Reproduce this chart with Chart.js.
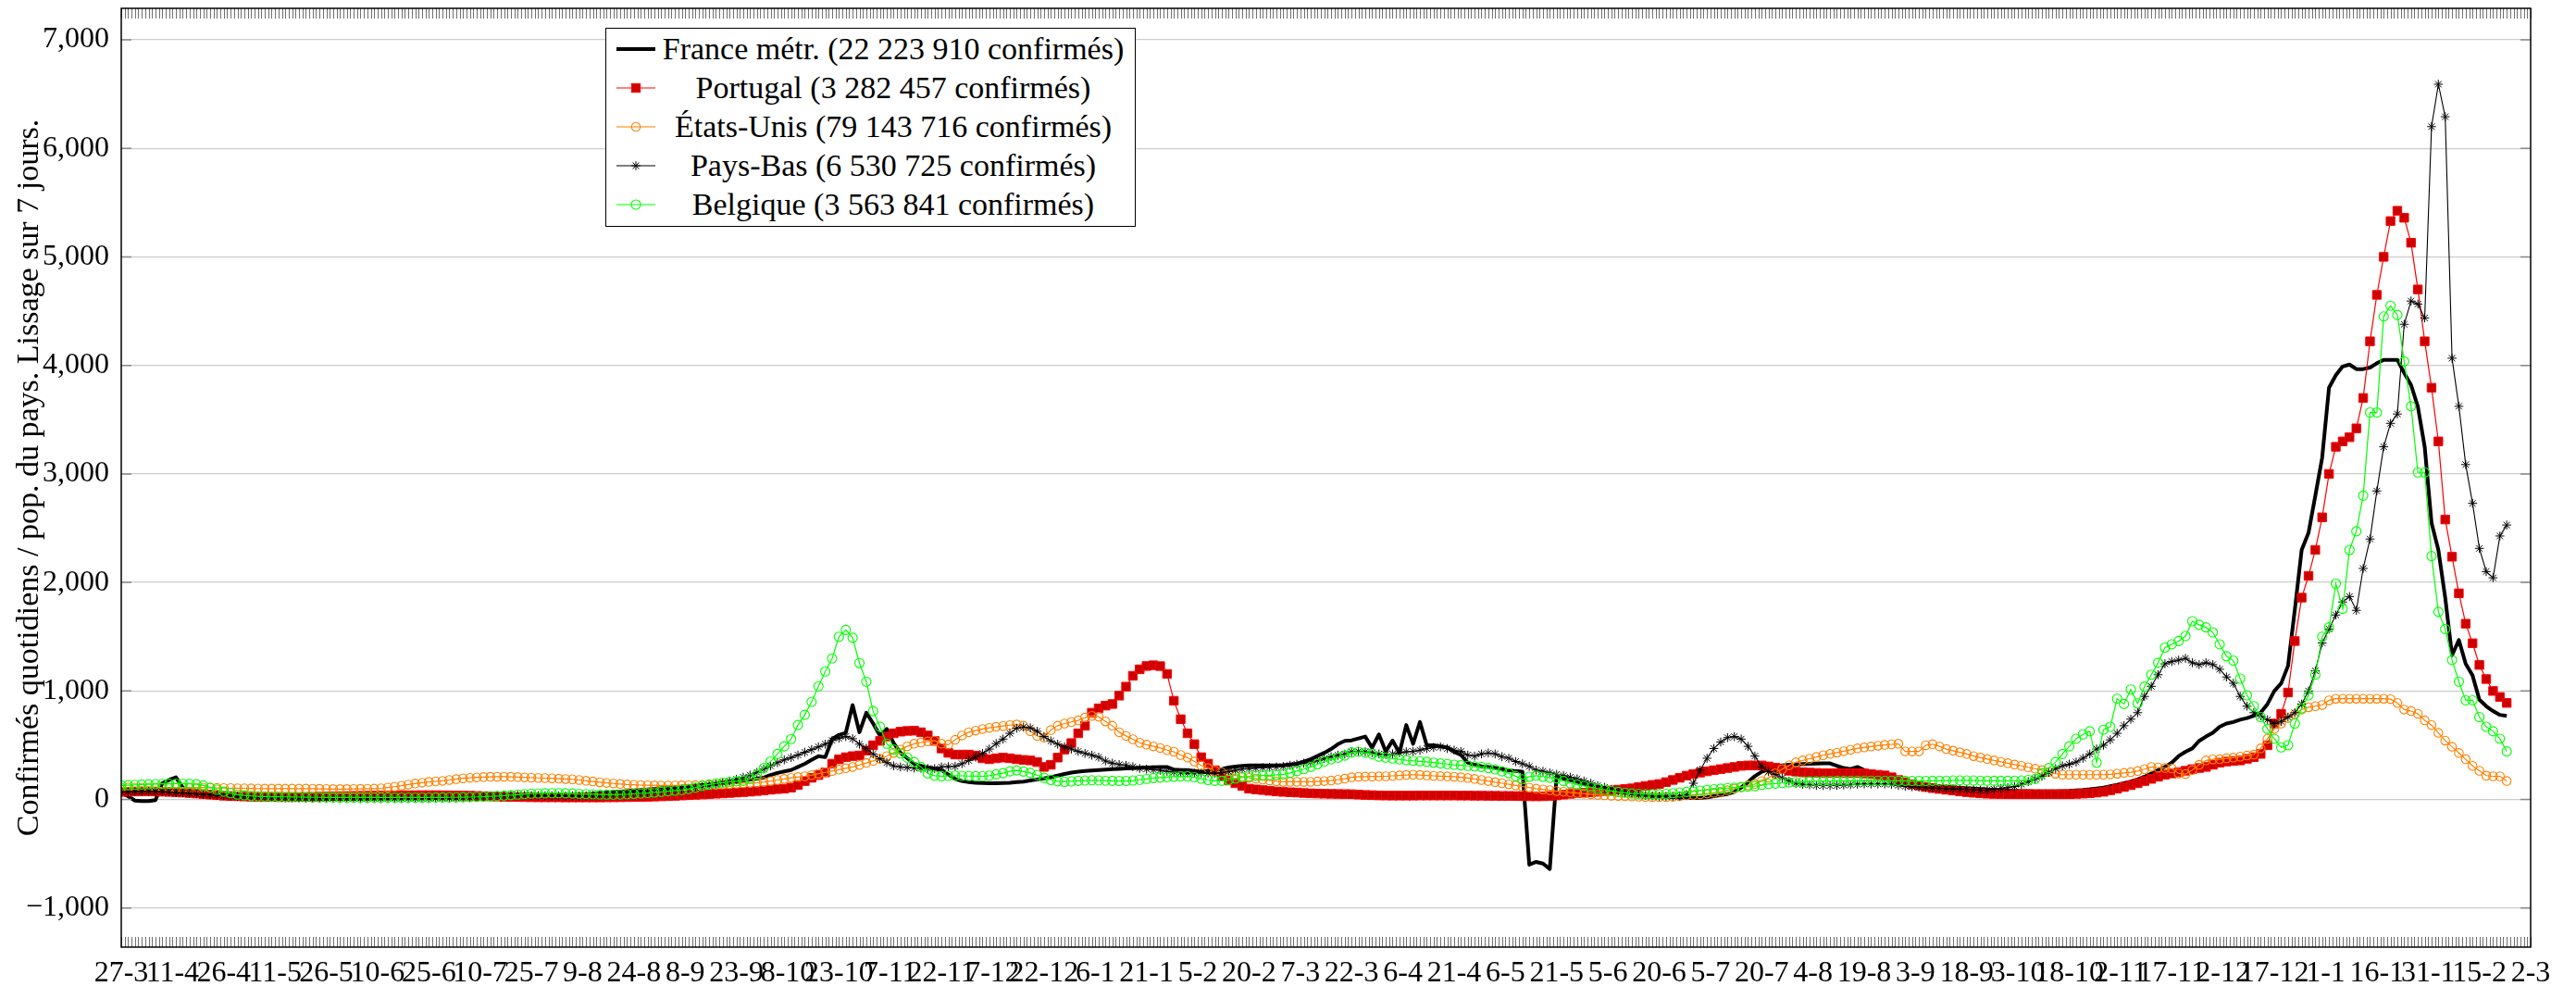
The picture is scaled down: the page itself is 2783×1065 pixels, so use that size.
<!DOCTYPE html>
<html lang="fr">
<head>
<meta charset="utf-8">
<title>Confirmés quotidiens par pays</title>
<script src="https://cdn.jsdelivr.net/npm/chart.js@4.4.1/dist/chart.umd.min.js"></script>
<style>
  html, body { margin: 0; padding: 0; background: #fff; }
  #wrap { position: relative; width: 2783px; height: 1065px; overflow: hidden; }
  #chart { display: block; }
  #legend {
    position: absolute; left: 654px; top: 30px; width: 571px;
    border: 1px solid #000; background: #fff; color: #000;
    font: 34px 'Liberation Serif', serif; padding: 1px 0 2px 0;
  }
  .row { display: flex; align-items: center; height: 42px; padding: 0 8px 0 11px; }
  .row svg { flex: none; }
  .row span { flex: 1; text-align: center; white-space: nowrap; margin-left: 4px; line-height: 42px; }
</style>
</head>
<body>
<div id="wrap">
  <canvas id="chart" width="2783" height="1065"></canvas>
  <div id="legend"></div>
</div>
<script>
// one value every SAMPLE_STEP days, day 0 = 27-3-2020
const SAMPLE_STEP = 2;
const TICK_STEP = 15;
const X_MAX = 705;
const Y_MIN = -1360;
const Y_MAX = 7290;

const tickLabels = ['27-3', '11-4', '26-4', '11-5', '26-5', '10-6', '25-6', '10-7', '25-7', '9-8',
  '24-8', '8-9', '23-9', '8-10', '23-10', '7-11', '22-11', '7-12', '22-12', '6-1',
  '21-1', '5-2', '20-2', '7-3', '22-3', '6-4', '21-4', '6-5', '21-5', '5-6',
  '20-6', '5-7', '20-7', '4-8', '19-8', '3-9', '18-9', '3-10', '18-10', '2-11',
  '17-11', '2-12', '17-12', '1-1', '16-1', '31-1', '15-2', '2-3'];

const yTickValues = [-1000, 0, 1000, 2000, 3000, 4000, 5000, 6000, 7000];

const seriesLabels = [
  'France métr. (22 223 910 confirmés)',
  'Portugal (3 282 457 confirmés)',
  'États-Unis (79 143 716 confirmés)',
  'Pays-Bas (6 530 725 confirmés)',
  'Belgique (3 563 841 confirmés)'
];

const yTitle = 'Confirmés quotidiens / pop. du pays. Lissage sur 7 jours.';

const franceValues = [
  60, 30, -10, -15, -15, -5, 150, 180, 205, 110,
  60, 55, 50, 45, 40, 35, 30, 25, 22, 20,
  18, 16, 15, 15, 14, 14, 13, 13, 12, 12,
  12, 12, 12, 12, 12, 13, 13, 13, 14, 14,
  14, 15, 15, 15, 16, 16, 17, 17, 18, 18,
  19, 19, 20, 20, 21, 22, 23, 24, 25, 26,
  27, 28, 30, 32, 34, 36, 40, 44, 48, 53,
  58, 63, 68, 73, 78, 83, 88, 93, 98, 103,
  108, 112, 117, 122, 127, 132, 138, 144, 150, 157,
  165, 175, 183, 192, 202, 225, 245, 258, 271, 300,
  329, 365, 400, 390, 557, 595, 614, 870, 620, 800,
  700, 590, 650, 520, 430, 380, 329, 310, 295, 285,
  270, 230, 190, 170, 160, 155, 152, 150, 150, 152,
  155, 160, 165, 175, 185, 195, 205, 220, 235, 248,
  257, 263, 268, 272, 276, 280, 283, 286, 289, 292,
  295, 297, 299, 300, 275, 272, 271, 264, 257, 262,
  268, 280, 295, 303, 310, 314, 314, 314, 314, 314,
  316, 322, 329, 350, 371, 400, 430, 465, 510, 540,
  545, 563, 580, 477, 600, 443, 543, 430, 686, 514,
  714, 500, 500, 490, 480, 440, 410, 340, 320, 306,
  300, 290, 280, 270, 262, 257, -600, -575, -590, -640,
  214, 195, 180, 165, 145, 125, 114, 100, 85, 75,
  62, 55, 48, 40, 33, 29, 25, 22, 18, 15,
  14, 15, 20, 30, 40, 50, 70, 110, 160, 215,
  255, 275, 300, 314, 320, 323, 326, 329, 332, 334,
  333, 310, 290, 280, 300, 270, 257, 240, 220, 205,
  190, 178, 160, 143, 135, 128, 122, 116, 112, 108,
  104, 100, 96, 92, 88, 85, 82, 80, 78, 77,
  76, 75, 75, 76, 78, 80, 84, 88, 94, 102,
  110, 122, 135, 150, 165, 185, 210, 240, 270, 300,
  340, 400, 440, 471, 540, 580, 614, 670, 700, 714,
  735, 750, 771, 800, 880, 1000, 1070, 1230, 1750, 2300,
  2457, 2800, 3150, 3794, 3910, 3990, 4008, 3966, 3966, 3980,
  4020, 4051, 4051, 4051, 3930, 3820, 3620, 3250, 2550, 2300,
  1860, 1329, 1470, 1250, 1143, 920, 860, 815, 780, 770
];

const portugalValues = [
  70, 72, 74, 75, 75, 74, 72, 70, 67, 64,
  60, 55, 50, 45, 40, 35, 32, 30, 28, 26,
  25, 24, 23, 22, 22, 22, 23, 24, 25, 27,
  28, 30, 31, 32, 33, 34, 35, 36, 37, 38,
  38, 39, 39, 40, 40, 40, 40, 39, 38, 37,
  36, 35, 33, 31, 29, 27, 25, 24, 23, 22,
  21, 20, 20, 20, 20, 19, 19, 19, 19, 19,
  19, 20, 20, 21, 22, 23, 24, 25, 27, 29,
  31, 34, 37, 40, 43, 46, 50, 53, 56, 60,
  64, 68, 72, 78, 84, 90, 96, 100, 110, 134,
  170, 200, 225, 250, 330, 370, 390, 400, 406, 450,
  500, 540, 580, 610, 625, 632, 634, 620, 590, 540,
  470, 430, 414, 414, 414, 405, 380, 371, 380, 386,
  380, 371, 365, 360, 345, 300, 320, 386, 460, 520,
  610, 680, 800, 840, 865, 880, 957, 1040, 1140, 1200,
  1230, 1237, 1229, 1157, 910, 740, 610, 510, 390, 330,
  270, 214, 175, 150, 125, 100, 93, 87, 80, 74,
  70, 67, 64, 60, 57, 55, 53, 52, 51, 50,
  49, 45, 42, 40, 38, 37, 36, 36, 36, 36,
  37, 37, 37, 37, 37, 37, 36, 36, 35, 35,
  34, 34, 33, 33, 32, 31, 30, 29, 30, 33,
  38, 45, 52, 58, 63, 67, 71, 77, 84, 91,
  97, 103, 115, 125, 135, 143, 160, 180, 200, 220,
  235, 248, 260, 270, 280, 290, 300, 310, 314, 314,
  314, 305, 293, 280, 265, 257, 252, 248, 245, 243,
  243, 243, 243, 243, 243, 240, 235, 228, 222, 205,
  180, 160, 140, 129, 115, 105, 97, 90, 83, 75,
  68, 62, 57, 53, 51, 50, 49, 49, 49, 49,
  49, 49, 49, 49, 49, 49, 51, 54, 58, 64,
  71, 85, 100, 115, 132, 150, 170, 190, 210, 229,
  240, 252, 265, 280, 290, 300, 320, 340, 350, 355,
  360, 375, 390, 420, 500, 700, 790, 986, 1460, 1860,
  2060, 2300, 2600, 3000, 3250, 3300, 3338, 3420, 3700, 4222,
  4650, 5000, 5330, 5425, 5360, 5130, 4700, 4222, 3794, 3300,
  2580, 2237, 1900, 1620, 1440, 1240, 1110, 1000, 945, 890
];

const usValues = [
  110, 110, 110, 110, 110, 110, 110, 110, 110, 110,
  110, 110, 110, 108, 107, 106, 105, 104, 103, 102,
  101, 100, 100, 100, 100, 100, 100, 100, 99, 98,
  97, 96, 96, 96, 97, 98, 99, 100, 103, 110,
  118, 127, 138, 147, 155, 162, 167, 172, 180, 188,
  195, 200, 204, 207, 209, 210, 210, 209, 207, 204,
  201, 199, 197, 195, 192, 189, 186, 180, 173, 166,
  159, 153, 148, 143, 139, 136, 133, 131, 130, 129,
  129, 129, 130, 131, 132, 133, 134, 136, 139, 142,
  146, 150, 153, 156, 162, 170, 180, 190, 200, 207,
  214, 225, 238, 250, 262, 275, 288, 300, 318, 337,
  356, 375, 400, 430, 460, 490, 514, 525, 535, 543,
  514, 505, 550, 590, 620, 635, 650, 660, 670, 677,
  685, 691, 680, 630, 586, 571, 640, 680, 700, 715,
  729, 755, 771, 763, 720, 680, 620, 586, 555, 523,
  505, 490, 475, 455, 440, 410, 386, 350, 314, 290,
  265, 250, 235, 222, 210, 200, 192, 184, 176, 168,
  163, 163, 163, 163, 163, 166, 170, 175, 182, 192,
  205, 210, 211, 212, 213, 214, 218, 222, 226, 229,
  226, 222, 218, 215, 213, 210, 205, 198, 190, 180,
  170, 160, 150, 140, 130, 120, 110, 100, 93, 86,
  78, 72, 66, 60, 54, 48, 43, 39, 35, 32,
  30, 28, 26, 24, 22, 21, 22, 25, 30, 38,
  43, 48, 55, 62, 70, 85, 100, 115, 130, 143,
  170, 200, 240, 280, 315, 343, 360, 376, 392, 408,
  420, 432, 445, 458, 471, 480, 488, 496, 503, 508,
  514, 443, 443, 443, 500, 510, 490, 465, 450, 435,
  420, 400, 386, 373, 360, 347, 335, 322, 310, 297,
  284, 271, 255, 238, 229, 229, 229, 229, 229, 229,
  229, 232, 238, 245, 252, 262, 280, 300, 295, 290,
  286, 240, 235, 271, 320, 360, 370, 371, 380, 386,
  395, 405, 414, 471, 560, 650, 700, 750, 786, 829,
  850, 860, 871, 914, 929, 929, 929, 929, 929, 929,
  929, 929, 925, 890, 829, 815, 790, 729, 686, 614,
  543, 486, 429, 371, 310, 265, 220, 214, 214, 171
];

const netherlandsValues = [
  70, 72, 74, 75, 75, 74, 72, 70, 66, 62,
  57, 52, 47, 43, 39, 35, 32, 29, 27, 25,
  23, 21, 19, 18, 16, 15, 14, 13, 12, 11,
  10, 10, 9, 9, 9, 8, 8, 8, 8, 8,
  8, 8, 9, 9, 9, 10, 10, 11, 12, 14,
  16, 18, 21, 24, 27, 30, 33, 36, 38, 38,
  37, 36, 35, 34, 33, 33, 33, 34, 35, 37,
  39, 42, 45, 48, 52, 56, 60, 65, 70, 76,
  82, 88, 95, 102, 110, 118, 128, 140, 155, 170,
  186, 205, 225, 250, 280, 310, 340, 365, 386, 410,
  435, 460, 485, 510, 545, 565, 580, 560, 510, 471,
  420, 375, 340, 310, 300, 295, 290, 288, 286, 285,
  300, 303, 306, 330, 360, 390, 425, 465, 515, 557,
  610, 657, 668, 660, 629, 580, 540, 510, 486, 465,
  443, 425, 408, 390, 355, 335, 322, 314, 302, 286,
  280, 274, 270, 260, 252, 246, 243, 243, 243, 243,
  243, 246, 258, 270, 280, 286, 290, 294, 297, 300,
  305, 315, 325, 335, 343, 360, 378, 395, 408, 418,
  440, 443, 440, 432, 420, 414, 420, 430, 440, 443,
  455, 470, 480, 486, 470, 455, 443, 410, 400, 420,
  429, 420, 395, 380, 350, 329, 305, 271, 260, 245,
  232, 220, 205, 190, 170, 150, 129, 112, 95, 80,
  65, 55, 45, 38, 32, 29, 29, 30, 33, 43,
  150, 271, 380, 470, 530, 570, 580, 557, 490, 400,
  300, 257, 230, 200, 170, 150, 140, 135, 130, 129,
  128, 130, 133, 136, 140, 143, 143, 143, 143, 140,
  130, 122, 118, 114, 110, 106, 103, 101, 100, 97,
  94, 90, 86, 88, 95, 103, 110, 120, 140, 165,
  190, 214, 250, 285, 310, 325, 345, 380, 420, 465,
  500, 550, 610, 680, 740, 800, 950, 1043, 1150, 1250,
  1271, 1285, 1300, 1260, 1243, 1260, 1243, 1200, 1129, 1071,
  950, 860, 800, 770, 735, 700, 720, 760, 800, 880,
  1000, 1186, 1443, 1571, 1700, 1820, 1870, 1743, 2129, 2400,
  2843, 3250, 3466, 3552, 4379, 4593, 4565, 4437, 6200, 6591,
  6291, 4066, 3623, 3086, 2729, 2314, 2100, 2043, 2428, 2529
];

const belgiumValues = [
  130, 132, 135, 138, 140, 142, 144, 145, 146, 146,
  145, 140, 130, 110, 90, 72, 58, 45, 38, 33,
  30, 28, 26, 25, 24, 23, 22, 21, 20, 20,
  19, 19, 18, 18, 18, 18, 18, 18, 18, 18,
  18, 18, 18, 18, 18, 18, 19, 19, 20, 20,
  21, 22, 24, 26, 29, 32, 36, 40, 45, 50,
  54, 56, 57, 58, 58, 57, 55, 52, 50, 48,
  46, 45, 45, 46, 48, 52, 56, 60, 65, 70,
  76, 82, 88, 98, 110, 125, 138, 148, 156, 163,
  168, 172, 190, 230, 290, 350, 420, 490, 557, 686,
  780, 900, 1043, 1180, 1300, 1500, 1563, 1490, 1257, 1086,
  814, 671, 514, 460, 425, 386, 345, 300, 240, 220,
  215, 218, 220, 218, 216, 215, 214, 220, 232, 243,
  260, 268, 258, 245, 225, 200, 180, 168, 163, 167,
  172, 175, 177, 176, 174, 172, 171, 171, 175, 182,
  190, 198, 202, 206, 210, 213, 214, 205, 192, 180,
  172, 172, 180, 195, 205, 214, 218, 221, 224, 227,
  232, 245, 262, 280, 300, 325, 350, 370, 385, 405,
  435, 440, 432, 420, 395, 386, 378, 370, 362, 357,
  352, 347, 340, 332, 327, 320, 315, 310, 305, 300,
  290, 278, 260, 243, 215, 186, 210, 220, 210, 200,
  195, 170, 150, 138, 125, 112, 100, 90, 80, 70,
  62, 55, 52, 50, 49, 49, 52, 58, 64, 70,
  75, 82, 88, 95, 100, 105, 110, 115, 120, 123,
  135, 143, 147, 152, 157, 160, 163, 166, 169, 171,
  171, 172, 172, 173, 173, 174, 174, 174, 173, 173,
  172, 172, 171, 171, 171, 172, 173, 174, 175, 176,
  176, 175, 174, 173, 172, 172, 172, 173, 175, 180,
  190, 243, 290, 345, 420, 490, 560, 600, 629, 340,
  643, 670, 930, 880, 1014, 886, 1040, 1150, 1260, 1400,
  1430, 1460, 1506, 1643, 1610, 1586, 1540, 1430, 1320, 1280,
  1114, 960, 860, 760, 650, 560, 480, 500, 700, 840,
  960, 1150, 1500, 1586, 1990, 1757, 2300, 2471, 2800, 3566,
  3566, 4451, 4550, 4465, 4037, 3623, 3014, 3014, 2243, 1729,
  1571, 1286, 1086, 914, 914, 760, 670, 629, 560, 443
];

function toPoints(values) {
  return values.map((v, i) => ({ x: i * SAMPLE_STEP, y: v }));
}

function formatThousands(v) {
  const s = Math.abs(v).toLocaleString('en-US');
  return v < 0 ? '\u2212' + s : s;
}

Chart.defaults.font.family = "'Liberation Serif', 'DejaVu Serif', serif";
Chart.defaults.color = '#000';

const datasets = [
  {
    label: seriesLabels[0], data: toPoints(franceValues), order: 5,
    borderColor: '#000', borderWidth: 4, pointRadius: 0, borderJoinStyle: 'round'
  },
  {
    label: seriesLabels[1], data: toPoints(portugalValues), order: 4,
    borderColor: '#ff0000', borderWidth: 1.2,
    pointStyle: 'rect', pointRadius: 6.6, pointBorderWidth: 1,
    pointBackgroundColor: '#cc0000', pointBorderColor: '#ff0000'
  },
  {
    label: seriesLabels[2], data: toPoints(usValues), order: 3,
    borderColor: '#ff8000', borderWidth: 1.2,
    pointStyle: 'circle', pointRadius: 4.7, pointBorderWidth: 1.1,
    pointBackgroundColor: 'rgba(0,0,0,0)', pointBorderColor: '#ff8000'
  },
  {
    label: seriesLabels[3], data: toPoints(netherlandsValues), order: 2,
    borderColor: '#000', borderWidth: 1.1,
    pointStyle: 'star', pointRadius: 4.8, pointBorderWidth: 1,
    pointBackgroundColor: '#000', pointBorderColor: '#000'
  },
  {
    label: seriesLabels[4], data: toPoints(belgiumValues), order: 1,
    borderColor: '#00ff00', borderWidth: 1.2,
    pointStyle: 'circle', pointRadius: 5, pointBorderWidth: 1.1,
    pointBackgroundColor: 'rgba(0,0,0,0)', pointBorderColor: '#00ff00'
  }
];

// frame, daily ticks along top/bottom, short y ticks on both sides
const frameTicks = {
  id: 'frameTicks',
  afterDatasetsDraw(chart) {
    const { ctx, chartArea: a, scales: { x, y } } = chart;
    ctx.save();
    ctx.strokeStyle = '#707070';
    ctx.lineWidth = 1;
    ctx.beginPath();
    for (let d = 0; d <= X_MAX; d++) {
      const px = Math.round(x.getPixelForValue(d)) + 0.5;
      ctx.moveTo(px, a.bottom);
      ctx.lineTo(px, a.bottom - 11);
      ctx.moveTo(px, a.top);
      ctx.lineTo(px, a.top + 11);
    }
    ctx.stroke();

    ctx.strokeStyle = '#8a8a8a';
    ctx.lineWidth = 1.5;
    ctx.beginPath();
    yTickValues.forEach(v => {
      const py = y.getPixelForValue(v);
      ctx.moveTo(a.left, py);
      ctx.lineTo(a.left + 11, py);
      ctx.moveTo(a.right, py);
      ctx.lineTo(a.right - 11, py);
    });
    ctx.stroke();

    ctx.strokeStyle = '#000';
    ctx.lineWidth = 1.5;
    ctx.strokeRect(a.left, a.top, a.right - a.left, a.bottom - a.top);
    ctx.restore();
  }
};

new Chart(document.getElementById('chart'), {
  type: 'line',
  data: { datasets },
  options: {
    responsive: false,
    devicePixelRatio: 1,
    animation: false,
    events: [],
    layout: { padding: { left: 0, right: 49, top: 9, bottom: 0 } },
    elements: { line: { tension: 0 } },
    plugins: { legend: { display: false }, tooltip: { enabled: false } },
    scales: {
      x: {
        type: 'linear',
        min: 0,
        max: X_MAX,
        grid: { display: false, drawTicks: false },
        border: { display: false },
        afterBuildTicks: s => { s.ticks = tickLabels.map((_, i) => ({ value: i * TICK_STEP })); },
        ticks: {
          autoSkip: false, maxRotation: 0, minRotation: 0, padding: 9,
          font: { size: 32 },
          callback: (v, i) => tickLabels[i]
        },
        afterFit: s => { s.height = 42; s.paddingLeft = 0; s.paddingRight = 0; }
      },
      y: {
        min: Y_MIN,
        max: Y_MAX,
        grid: { color: '#cccccc', lineWidth: 1.3, drawTicks: false },
        border: { display: false },
        afterBuildTicks: s => { s.ticks = yTickValues.map(v => ({ value: v })); },
        ticks: { padding: 13, font: { size: 32 }, callback: v => formatThousands(v) },
        title: {
          display: true, text: yTitle, font: { size: 34 },
          padding: { top: 12, bottom: 0 }
        },
        afterFit: s => { s.width = 131; s.paddingTop = 0; s.paddingBottom = 0; }
      }
    }
  },
  plugins: [frameTicks]
});

// legend box, text centred like the original
function legendSample(ds) {
  const w = 42, h = 30, cx = 21, cy = 15;
  let s = `<svg width="${w}" height="${h}" viewBox="0 0 ${w} ${h}">`;
  s += `<line x1="0" y1="${cy}" x2="${w}" y2="${cy}" stroke="${ds.borderColor}" stroke-width="${ds.borderWidth}"/>`;
  const r = ds.pointRadius;
  if (r > 0) {
    const c = ds.pointBorderColor, sw = ds.pointBorderWidth;
    if (ds.pointStyle === 'rect') {
      const a = r * Math.SQRT1_2;
      s += `<rect x="${cx - a}" y="${cy - a}" width="${2 * a}" height="${2 * a}" fill="${ds.pointBackgroundColor}" stroke="${c}" stroke-width="${sw}"/>`;
    } else if (ds.pointStyle === 'circle') {
      s += `<circle cx="${cx}" cy="${cy}" r="${r}" fill="none" stroke="${c}" stroke-width="${sw}"/>`;
    } else if (ds.pointStyle === 'star') {
      const d = r * Math.SQRT1_2;
      s += `<path d="M${cx - r} ${cy}H${cx + r}M${cx} ${cy - r}V${cy + r}M${cx - d} ${cy - d}L${cx + d} ${cy + d}M${cx - d} ${cy + d}L${cx + d} ${cy - d}" stroke="${c}" stroke-width="${sw}"/>`;
    }
  }
  return s + '</svg>';
}

const legend = document.getElementById('legend');
datasets.forEach(ds => {
  const row = document.createElement('div');
  row.className = 'row';
  row.innerHTML = legendSample(ds);
  const span = document.createElement('span');
  span.textContent = ds.label;
  row.appendChild(span);
  legend.appendChild(row);
});
</script>
</body>
</html>
